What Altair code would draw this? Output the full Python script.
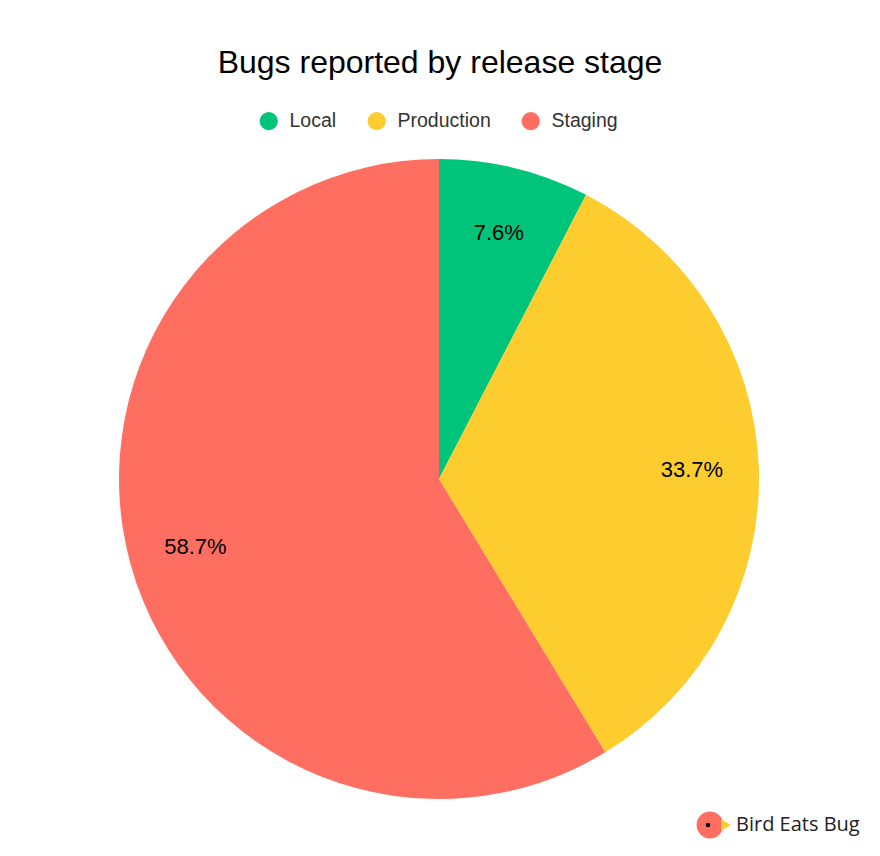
import altair as alt
import pandas as pd

stages = ["Local", "Production", "Staging"]
shares = [7.6, 33.7, 58.7]
labels = ["7.6%", "33.7%", "58.7%"]
colors = ["#00C47A", "#FDCD2F", "#FF6F61"]
order = [1, 2, 3]

df = pd.DataFrame({"stage": stages, "share": shares, "label": labels, "order": order})

W, H = 864, 750
CX, CY = 431, 381

base = alt.Chart(df).encode(
    theta=alt.Theta("share:Q", stack=True),
    order=alt.Order("order:Q"),
)

pie = base.mark_arc(outerRadius=320, stroke=None).encode(
    x=alt.value(CX),
    y=alt.value(CY),
    color=alt.Color(
        "stage:N",
        scale=alt.Scale(domain=stages, range=colors),
        legend=alt.Legend(
            title=None,
            orient="none",
            legendX=251,
            legendY=13,
            direction="horizontal",
            symbolType="circle",
            symbolSize=330,
            symbolStrokeWidth=0,
            labelFontSize=19.5,
            labelFont="Liberation Sans",
            labelColor="#333333",
            labelOffset=11,
            columnPadding=30,
        ),
    ),
)

text = base.mark_text(radius=253, fontSize=22, font="Liberation Sans", color="#000000").encode(
    x=alt.value(CX),
    y=alt.value(CY),
    text="label:N",
)

brand = ["Bird Eats Bug"]
bdf = pd.DataFrame({"name": brand})
logo_circle = alt.Chart(bdf).mark_point(shape="circle", filled=True, size=720, color="#FF6F61", opacity=1).encode(
    x=alt.value(702), y=alt.value(727)
)
logo_beak = alt.Chart(bdf).mark_point(shape="triangle-right", filled=True, size=130, color="#FDCD2F", opacity=1).encode(
    x=alt.value(718), y=alt.value(727)
)
logo_eye = alt.Chart(bdf).mark_point(shape="circle", filled=True, size=20, color="#000000", opacity=1).encode(
    x=alt.value(700), y=alt.value(727)
)
logo_text = alt.Chart(bdf).mark_text(align="left", baseline="middle", fontSize=20, font="Open Sans", color="#222222").encode(
    x=alt.value(728), y=alt.value(727), text="name:N"
)

chart = alt.layer(pie, text, logo_circle, logo_beak, logo_eye, logo_text).properties(
    width=W,
    height=H,
    padding={"left": 0, "top": 90, "right": 0, "bottom": 0},
    autosize=alt.AutoSizeParams(type="none"),
    title=alt.TitleParams(
        "Bugs reported by release stage",
        fontSize=32,
        font="Liberation Sans",
        fontWeight="normal",
        color="#000000",
        anchor="middle",
        offset=18,
    ),
).configure_view(stroke=None)

chart.save("out.html", embed_options={"renderer": "svg", "actions": False})
